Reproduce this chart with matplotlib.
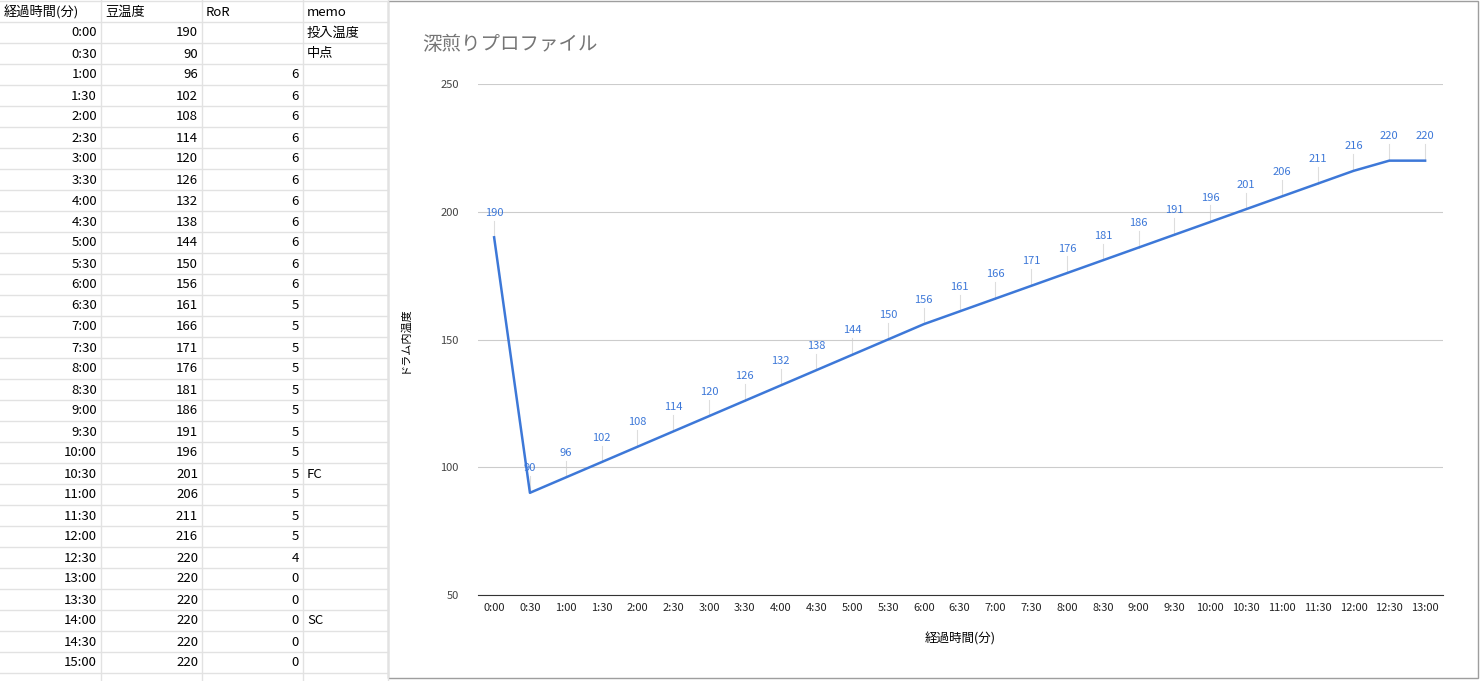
import matplotlib
matplotlib.use("Agg")
import matplotlib.pyplot as plt
from matplotlib.lines import Line2D
from matplotlib.patches import Rectangle

plt.rcParams['font.family'] = ['Noto Sans CJK JP', 'DejaVu Sans']

times = ["0:00","0:30","1:00","1:30","2:00","2:30","3:00","3:30","4:00","4:30","5:00","5:30","6:00","6:30",
         "7:00","7:30","8:00","8:30","9:00","9:30","10:00","10:30","11:00","11:30","12:00","12:30","13:00",
         "13:30","14:00","14:30","15:00"]
temps = [190,90,96,102,108,114,120,126,132,138,144,150,156,161,166,171,176,181,186,191,196,201,206,211,216,220,220,220,220,220,220]
ror = [None,None,6,6,6,6,6,6,6,6,6,6,6,5,5,5,5,5,5,5,5,5,5,5,5,4,0,0,0,0,0]
memo = {0:"投入温度",1:"中点",21:"FC",28:"SC"}
headers = ["経過時間(分)","豆温度","RoR","memo"]
n_chart = 27

W, H = 1480, 681
fig = plt.figure(figsize=(W/100, H/100), dpi=100)
fig.patch.set_facecolor("white")

def fx(x): return x / W
def fy(y): return 1 - y / H

# spreadsheet grid
cols = [0, 101, 202, 303, 388]
grid_c = "#e2e2e2"
for i in range(33):
    y = 1 if i == 0 else 22 + (i - 1) * 21
    fig.add_artist(Line2D([0, fx(388)], [fy(y), fy(y)], color=grid_c, lw=1))
for x in cols[1:]:
    fig.add_artist(Line2D([fx(x), fx(x)], [0, 1], color=grid_c, lw=1))
fs = 9.5
fig.text(fx(4), fy(12), headers[0], fontsize=fs, va="center")
fig.text(fx(105), fy(12), headers[1], fontsize=fs, va="center")
fig.text(fx(206), fy(12), headers[2], fontsize=fs, va="center")
fig.text(fx(307), fy(12), headers[3], fontsize=fs, va="center")
for i in range(len(times)):
    yc = 33 + i * 21
    fig.text(fx(97), fy(yc), times[i], fontsize=fs, va="center", ha="right")
    fig.text(fx(198), fy(yc), str(temps[i]), fontsize=fs, va="center", ha="right")
    if ror[i] is not None:
        fig.text(fx(299), fy(yc), str(ror[i]), fontsize=fs, va="center", ha="right")
    if i in memo:
        fig.text(fx(307), fy(yc), memo[i], fontsize=fs, va="center")

# chart panel
panel = Rectangle((fx(388), fy(678)), fx(1478-388), (678-1)/H, fill=True,
                  facecolor="white", edgecolor="#9e9e9e", lw=1, zorder=-5)
fig.add_artist(panel)
fig.text(fx(422), fy(44), "深煎りプロファイル", fontsize=14, color="#757575", va="center")

ax = fig.add_axes([fx(478), fy(595), fx(1443-478), (595-84)/H])
ax.set_zorder(5)
ax.patch.set_alpha(0)
xs = list(range(n_chart))
ys = temps[:n_chart]
ax.plot(xs, ys, color="#3d78d8", lw=1.8, zorder=3)
for x, y in zip(xs, ys):
    ax.plot([x, x], [y, y + 6.5], color="#dddddd", lw=0.8, zorder=1)
    ax.annotate(str(y), (x, y), xytext=(0, 14), textcoords="offset points",
                ha="center", va="bottom", fontsize=8, color="#3d78d8")
ax.set_ylim(50, 250)
ax.set_xlim(-0.45, 26.5)
ax.set_yticks([50, 100, 150, 200, 250])
ax.set_xticks(xs)
ax.set_xticklabels(times[:n_chart], fontsize=8, color="#222222")
ax.tick_params(axis="y", labelsize=8, colors="#444444", length=0, pad=14)
ax.tick_params(axis="x", length=0, pad=6)
ax.grid(axis="y", color="#cccccc", lw=0.8)
for s in ax.spines.values():
    s.set_visible(False)
ax.spines["bottom"].set_visible(True)
ax.spines["bottom"].set_color("#333333")
ax.set_ylabel("ドラム内温度", fontsize=8, labelpad=22)
ax.set_xlabel("経過時間(分)", fontsize=9, labelpad=14)

fig.savefig("out.png", dpi=100)
